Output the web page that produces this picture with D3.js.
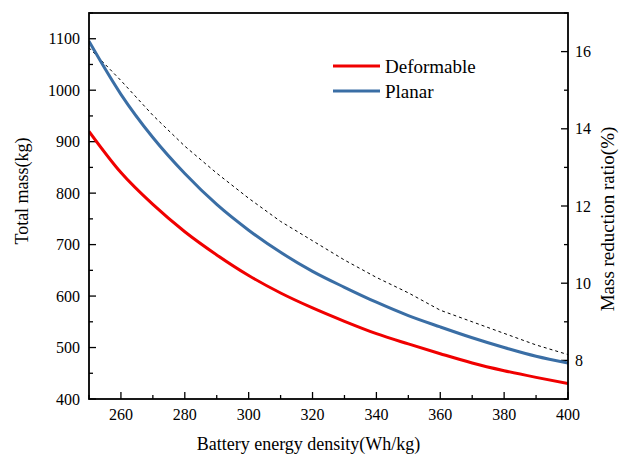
<!DOCTYPE html>
<html>
<head>
<meta charset="utf-8">
<script src="https://cdn.jsdelivr.net/npm/d3@7"></script>
<style>
  body { margin: 0; background: #fff; }
  svg text { font-family: "Times New Roman", "Liberation Serif", "DejaVu Serif", serif; }
</style>
</head>
<body>
<svg id="chart" width="620" height="455"></svg>
<script>
const density = [250, 260, 270, 280, 290, 300, 310, 320, 330, 340, 350, 360, 370, 380, 390, 400];
const deformable = [920, 840, 778, 725, 680, 640, 606, 577, 551, 527, 507, 488, 470, 455, 442, 430];
const planar = [1095, 992, 908, 838, 778, 728, 685, 648, 617, 588, 562, 540, 519, 500, 483, 470];
const ratio = [16.1, 15.25, 14.35, 13.55, 12.85, 12.2, 11.6, 11.1, 10.6, 10.15, 9.75, 9.3, 9.0, 8.7, 8.4, 8.15];

const xTicks = [260, 280, 300, 320, 340, 360, 380, 400];
const massTicks = [400, 500, 600, 700, 800, 900, 1000, 1100];
const ratioTicks = [8, 10, 12, 14, 16];

const colors = { deformable: "#f00000", planar: "#3a6ea5" };

const margin = { top: 13, right: 52, bottom: 56, left: 89 };
const width = 620, height = 455;
const serif = "'Times New Roman', 'Liberation Serif', 'DejaVu Serif', serif";

const svg = d3.select("#chart");

const x = d3.scaleLinear().domain([250, 400]).range([margin.left, width - margin.right]);
const yMass = d3.scaleLinear().domain([400, 1150]).range([height - margin.bottom, margin.top]);
const yRatio = d3.scaleLinear().domain([7, 17]).range([height - margin.bottom, margin.top]);

const plotTop = margin.top, plotBottom = height - margin.bottom;
const plotLeft = margin.left, plotRight = width - margin.right;

// ticks, all pointing inward
const tickG = svg.append("g").attr("stroke", "#000").attr("stroke-width", 1.3);
d3.range(250, 401, 10).forEach((v) => {
  const len = v % 20 === 0 ? 7 : 4;
  tickG.append("line").attr("x1", x(v)).attr("x2", x(v))
    .attr("y1", plotBottom).attr("y2", plotBottom - len);
});
d3.range(400, 1151, 50).forEach((v) => {
  const len = v % 100 === 0 ? 7 : 4;
  tickG.append("line").attr("y1", yMass(v)).attr("y2", yMass(v))
    .attr("x1", plotLeft).attr("x2", plotLeft + len);
});
d3.range(7, 17.01, 1).forEach((v) => {
  const len = v % 2 === 0 ? 7 : 4;
  tickG.append("line").attr("y1", yRatio(v)).attr("y2", yRatio(v))
    .attr("x1", plotRight).attr("x2", plotRight - len);
});

// tick labels
svg.append("g").selectAll("text").data(xTicks).join("text")
  .attr("font-family", serif)
  .attr("x", (d) => x(d)).attr("y", plotBottom + 21)
  .attr("text-anchor", "middle").attr("font-size", 16).text((d) => d);
svg.append("g").selectAll("text").data(massTicks).join("text")
  .attr("font-family", serif)
  .attr("x", plotLeft - 9).attr("y", (d) => yMass(d) + 5.5)
  .attr("text-anchor", "end").attr("font-size", 16).text((d) => d);
svg.append("g").selectAll("text").data(ratioTicks).join("text")
  .attr("font-family", serif)
  .attr("x", plotRight + 7).attr("y", (d) => yRatio(d) + 5.5)
  .attr("text-anchor", "start").attr("font-size", 16).text((d) => d);

// axis titles
svg.append("text").attr("font-family", serif)
  .attr("x", (plotLeft + plotRight) / 2 - 20).attr("y", 450)
  .attr("text-anchor", "middle").attr("font-size", 18).text("Battery energy density(Wh/kg)");
svg.append("text").attr("font-family", serif)
  .attr("transform", "translate(28,191) rotate(-90)")
  .attr("text-anchor", "middle").attr("font-size", 18).text("Total mass(kg)");
svg.append("text").attr("font-family", serif)
  .attr("transform", "translate(614,219) rotate(-90)")
  .attr("text-anchor", "middle").attr("font-size", 19).text("Mass reduction ratio(%)");

// lines
svg.append("clipPath").attr("id", "plot-clip").append("rect")
  .attr("x", plotLeft).attr("y", plotTop)
  .attr("width", plotRight - plotLeft).attr("height", plotBottom - plotTop);

const massLine = d3.line().x((d, i) => x(density[i])).y((d) => yMass(d)).curve(d3.curveMonotoneX);
const ratioLine = d3.line().x((d, i) => x(density[i])).y((d) => yRatio(d));

const lines = svg.append("g").attr("clip-path", "url(#plot-clip)");
lines.append("path").datum(ratio).attr("d", ratioLine)
  .attr("fill", "none").attr("stroke", "#000").attr("stroke-width", 1)
  .attr("stroke-dasharray", "3,3");
lines.append("path").datum(deformable).attr("d", massLine)
  .attr("fill", "none").attr("stroke", colors.deformable).attr("stroke-width", 3);
lines.append("path").datum(planar).attr("d", massLine)
  .attr("fill", "none").attr("stroke", colors.planar).attr("stroke-width", 3);

// frame
svg.append("rect").attr("x", plotLeft).attr("y", plotTop)
  .attr("width", plotRight - plotLeft).attr("height", plotBottom - plotTop)
  .attr("fill", "none").attr("stroke", "#000").attr("stroke-width", 1.8);

// legend
const legend = [
  { label: "Deformable", color: colors.deformable, y: 66 },
  { label: "Planar", color: colors.planar, y: 91 },
];
const lg = svg.append("g").selectAll("g").data(legend).join("g");
lg.append("line").attr("x1", 333).attr("x2", 380)
  .attr("y1", (d) => d.y).attr("y2", (d) => d.y)
  .attr("stroke", (d) => d.color).attr("stroke-width", 3);
lg.append("text").attr("font-family", serif)
  .attr("x", 385).attr("y", (d) => d.y + 6.5)
  .attr("font-size", 19).text((d) => d.label);
</script>
</body>
</html>
